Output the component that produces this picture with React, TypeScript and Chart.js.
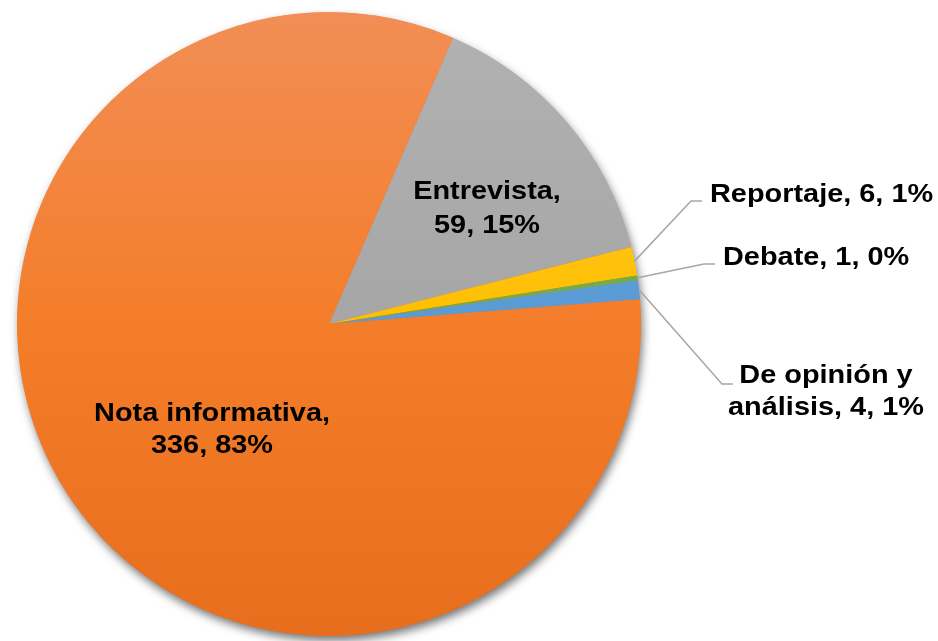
import React, { useEffect, useRef } from "react";
import { Chart, registerables } from "chart.js";

Chart.register(...registerables);

const categories = ["Entrevista", "Reportaje", "Debate", "De opinión y análisis", "Nota informativa"];
const values = [59, 6, 1, 4, 336];
const percents = ["15%", "1%", "0%", "1%", "83%"];
// top / middle / bottom shades of each slice (Excel-like vertical gradient)
const colorsTop = ["#B2B2B2", "#FFC83A", "#7AB552", "#64A3DA", "#F28E55"];
const colorsMid = ["#A6A6A6", "#FFC000", "#70AD47", "#5B9BD5", "#F47D2A"];
const colorsBot = ["#9C9C9C", "#F5B800", "#68A540", "#5392CC", "#E76E1C"];

const labelLines: string[][] = [
  ["Entrevista,", "59, 15%"],
  ["Reportaje, 6, 1%"],
  ["Debate, 1, 0%"],
  ["De opinión y", "análisis, 4, 1%"],
  ["Nota informativa,", "336, 83%"],
];
const labelPos: { x: number; y: number; align: CanvasTextAlign; leader: boolean; lh: number }[] = [
  { x: 487, y: 199, align: "center", leader: false, lh: 34 },
  { x: 710, y: 202, align: "left", leader: true, lh: 32 },
  { x: 723, y: 265, align: "left", leader: true, lh: 32 },
  { x: 826, y: 383, align: "center", leader: true, lh: 32 },
  { x: 212, y: 421, align: "center", leader: false, lh: 32 },
];

const FONT = 'bold 26.5px "Liberation Sans", Arial, sans-serif';
const XSCALE = 1.09;

const shadowPlugin = {
  id: "pieShadow",
  beforeDatasetsDraw(chart: any) {
    const arc = chart.getDatasetMeta(0).data[0];
    if (!arc) return;
    const { x, y, outerRadius } = arc;
    const ctx = chart.ctx;
    ctx.save();
    ctx.shadowColor = "rgba(0,0,0,0.55)";
    ctx.shadowBlur = 10;
    ctx.shadowOffsetX = 2;
    ctx.shadowOffsetY = 5;
    ctx.fillStyle = "#E76E1C";
    ctx.beginPath();
    ctx.arc(x, y, outerRadius - 0.5, 0, Math.PI * 2);
    ctx.fill();
    ctx.restore();
  },
};

const labelPlugin = {
  id: "pieLabels",
  afterDatasetsDraw(chart: any) {
    const ctx = chart.ctx;
    const meta = chart.getDatasetMeta(0);
    ctx.save();
    meta.data.forEach((arc: any, i: number) => {
      const p = labelPos[i];
      if (p.leader) {
        const mid = (arc.startAngle + arc.endAngle) / 2;
        const ax = arc.x + Math.cos(mid) * arc.outerRadius;
        const ay = arc.y + Math.sin(mid) * arc.outerRadius;
        const ly = p.y - 1;
        let ex = p.x - 8;
        if (p.align === "center") ex = p.x - 93;
        ctx.strokeStyle = "#A6A6A6";
        ctx.lineWidth = 1.5;
        ctx.beginPath();
        ctx.moveTo(ax, ay);
        ctx.lineTo(ex - 11, ly - (p.align === "center" ? -2 : 0));
        ctx.lineTo(ex, ly - (p.align === "center" ? -2 : 0));
        ctx.stroke();
      }
      ctx.fillStyle = "#000000";
      ctx.font = FONT;
      ctx.textAlign = p.align;
      ctx.textBaseline = "alphabetic";
      labelLines[i].forEach((t, k) => {
        ctx.save();
        ctx.translate(p.x, p.y + k * p.lh);
        ctx.scale(XSCALE, 1);
        ctx.fillText(t, 0, 0);
        ctx.restore();
      });
    });
    ctx.restore();
  },
};

export default function App() {
  const ref = useRef<HTMLCanvasElement>(null);
  useEffect(() => {
    if (!ref.current) return;
    const chart = new Chart(ref.current, {
      type: "pie",
      data: {
        labels: categories,
        datasets: [
          {
            data: values,
            borderWidth: 0,
            backgroundColor: (c: any) => {
              const ch = c.chart;
              const area = ch.chartArea;
              if (!area) return colorsMid[c.dataIndex];
              const g = ch.ctx.createLinearGradient(0, area.top, 0, area.bottom);
              g.addColorStop(0, colorsTop[c.dataIndex]);
              g.addColorStop(0.5, colorsMid[c.dataIndex]);
              g.addColorStop(1, colorsBot[c.dataIndex]);
              return g;
            },
          },
        ],
      },
      options: {
        animation: false,
        responsive: false,
        rotation: 23.4,
        layout: { padding: { left: 17, right: 297, top: 12, bottom: 5 } },
        plugins: { legend: { display: false }, tooltip: { enabled: false } },
      },
      plugins: [shadowPlugin, labelPlugin],
    });
    return () => chart.destroy();
  }, []);
  return (
    <div style={{ position: "fixed", left: 0, top: 0, width: 938, height: 641, background: "#fff" }}>
      <canvas ref={ref} width={938} height={641} style={{ width: 938, height: 641 }} />
    </div>
  );
}
